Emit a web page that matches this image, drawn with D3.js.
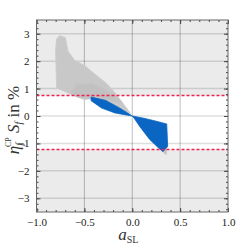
<!DOCTYPE html>
<html>
<head>
<meta charset="utf-8">
<script src="https://cdn.jsdelivr.net/npm/d3@7"></script>
<style>
    body { margin: 0; background: #fff; }
    text { font-family: "Liberation Serif", "DejaVu Serif", serif; }
</style>
</head>
<body>
<div id="scatter"></div>
<script>
const xTicks = [-1, -0.5, 0, 0.5, 1];
const yTicks = [-3, -2, -1, 0, 1, 2, 3];
const xGrid = [-0.5, 0, 0.5];
const bandLimits = [0.75, -1.22];

// outlines of the two point clouds
const grayCloud = [
    [-0.76, 2.93], [-0.70, 2.86], [-0.67, 2.35], [-0.60, 2.02], [-0.49, 1.82],
    [-0.39, 1.52], [-0.28, 1.22], [-0.20, 0.93], [-0.14, 0.66], [-0.08, 0.38],
    [-0.02, 0.10], [-0.06, 0.17], [-0.15, 0.36], [-0.28, 0.58], [-0.42, 0.64],
    [-0.50, 0.60], [-0.60, 0.73], [-0.72, 0.92], [-0.79, 1.02], [-0.80, 2.40],
    [-0.79, 2.80]
];
// denser part of the gray cloud
const grayCore = [
    [-0.58, 1.15], [-0.42, 1.18], [-0.30, 1.00], [-0.20, 0.78], [-0.12, 0.50],
    [-0.28, 0.58], [-0.42, 0.64], [-0.55, 0.68], [-0.64, 0.84]
];
const grayTail = [
    [0.31, -1.26], [0.36, -1.18], [0.36, -1.42], [0.33, -1.36]
];
const blueBand = [
    [-0.43, 0.69], [-0.28, 0.57], [-0.15, 0.33], [-0.06, 0.14], [0, 0],
    [0.12, -0.08], [0.25, -0.19], [0.36, -0.29], [0.37, -1.12], [0.34, -1.22],
    [0.32, -1.30], [0.27, -1.15], [0.18, -0.85], [0.08, -0.39], [0.02, -0.08],
    [0, 0], [-0.05, 0.03], [-0.18, 0.11], [-0.32, 0.29], [-0.43, 0.56]
];

const drawScatter = () => {

    const width = 249;
    const height = 248;
    const margin = { top: 20, right: 21, bottom: 36, left: 36.5 };
    const innerWidth = width - margin.left - margin.right;
    const innerHeight = height - margin.top - margin.bottom;

    const svg = d3.select("#scatter")
        .append("svg")
        .attr("width", width)
        .attr("height", height);

    const innerChart = svg
        .append("g")
        .attr("transform", `translate(${margin.left}, ${margin.top})`);

    const xScale = d3.scaleLinear()
        .domain([-1, 1])
        .range([0, innerWidth]);

    const yScale = d3.scaleLinear()
        .domain([-3.5, 3.5])
        .range([innerHeight, 0]);

    // backgrounds: gray outside the allowed band, white inside
    innerChart
        .append("rect")
        .attr("width", innerWidth)
        .attr("height", innerHeight)
        .attr("fill", "#ebebeb");

    innerChart
        .append("rect")
        .attr("y", yScale(d3.max(bandLimits)))
        .attr("width", innerWidth)
        .attr("height", yScale(d3.min(bandLimits)) - yScale(d3.max(bandLimits)))
        .attr("fill", "#fff");

    // grid
    innerChart
        .selectAll(".grid-y")
        .data(yTicks)
        .join("line")
            .attr("class", "grid-y")
            .attr("x1", 0)
            .attr("x2", innerWidth)
            .attr("y1", d => yScale(d))
            .attr("y2", d => yScale(d))
            .attr("stroke", "#000")
            .attr("stroke-opacity", 0.13)
            .attr("stroke-width", 1.5);

    innerChart
        .selectAll(".grid-x")
        .data(xGrid)
        .join("line")
            .attr("class", "grid-x")
            .attr("x1", d => xScale(d))
            .attr("x2", d => xScale(d))
            .attr("y1", 0)
            .attr("y2", innerHeight)
            .attr("stroke", "#000")
            .attr("stroke-opacity", 0.25)
            .attr("stroke-width", 1);

    const areaLine = d3.line()
        .x(d => xScale(d[0]))
        .y(d => yScale(d[1]))
        .curve(d3.curveLinearClosed);

    innerChart
        .append("path")
        .attr("d", areaLine(grayCloud))
        .attr("fill", "#c8c8c8")
        .attr("stroke", "#cdcdcd")
        .attr("stroke-width", 1);

    innerChart
        .append("path")
        .attr("d", areaLine(grayCore))
        .attr("fill", "#c1c1c1")
        .attr("stroke", "#c4c4c4")
        .attr("stroke-width", 1.5);

    innerChart
        .append("path")
        .attr("d", areaLine(grayTail))
        .attr("fill", "#c4c4c4");

    innerChart
        .append("path")
        .attr("d", areaLine(blueBand))
        .attr("fill", "#0a66c2")
        .attr("stroke", "#0a66c2")
        .attr("stroke-width", 0.8);

    // experimental limits
    innerChart
        .selectAll(".limit")
        .data(bandLimits)
        .join("line")
            .attr("class", "limit")
            .attr("x1", 0)
            .attr("x2", innerWidth)
            .attr("y1", d => yScale(d))
            .attr("y2", d => yScale(d))
            .attr("stroke", "#ee2050")
            .attr("stroke-width", 1.4)
            .attr("stroke-dasharray", "3,2");

    // frame with ticks on all sides
    const tickFmtX = d => d3.format(".1f")(d).replace("-", "\u2212");
    const tickFmtY = d => d3.format("d")(d).replace("-", "\u2212");

    const addAxis = (axis, transform, labels) => {
        const g = innerChart
            .append("g")
            .attr("transform", transform)
            .call(axis);
        g.select(".domain").remove();
        g.selectAll(".tick line").attr("stroke", "#444");
        if (!labels) g.selectAll("text").remove();
        return g;
    };

    const xMinor = d3.range(-10, 11).map(d => d / 10);
    const yMinor = d3.range(-17, 18).map(d => d / 5);

    addAxis(d3.axisBottom(xScale).tickValues(xMinor).tickSize(-2).tickFormat(""), `translate(0, ${innerHeight})`, false);
    addAxis(d3.axisTop(xScale).tickValues(xMinor).tickSize(-2).tickFormat(""), "translate(0, 0)", false);
    addAxis(d3.axisLeft(yScale).tickValues(yMinor).tickSize(-2).tickFormat(""), "translate(0, 0)", false);
    addAxis(d3.axisRight(yScale).tickValues(yMinor).tickSize(-2).tickFormat(""), `translate(${innerWidth}, 0)`, false);

    const bottom = addAxis(d3.axisBottom(xScale).tickValues(xTicks).tickSize(-4).tickPadding(6).tickFormat(tickFmtX), `translate(0, ${innerHeight})`, true);
    addAxis(d3.axisTop(xScale).tickValues(xTicks).tickSize(-4), "translate(0, 0)", false);
    const left = addAxis(d3.axisLeft(yScale).tickValues(yTicks).tickSize(-4).tickPadding(7).tickFormat(tickFmtY), "translate(0, 0)", true);
    addAxis(d3.axisRight(yScale).tickValues(yTicks).tickSize(-4), `translate(${innerWidth}, 0)`, false);

    bottom.selectAll("text")
        .style("font-family", "'Liberation Serif', serif")
        .style("font-size", "11px")
        .attr("fill", "#222");
    left.selectAll("text")
        .style("font-family", "'Liberation Serif', serif")
        .style("font-size", "11px")
        .attr("fill", "#222");

    innerChart
        .append("rect")
        .attr("width", innerWidth)
        .attr("height", innerHeight)
        .attr("fill", "none")
        .attr("stroke", "#666")
        .attr("stroke-width", 1);

    // axis titles
    const xTitle = svg
        .append("text")
        .attr("x", margin.left + innerWidth / 2 - 4)
        .attr("y", 240)
        .attr("text-anchor", "middle")
        .attr("fill", "#333")
        .style("font-size", "17px");
    xTitle.append("tspan").text("a").style("font-style", "italic");
    xTitle.append("tspan").text("SL").attr("dy", 3).style("font-size", "10px");

    const yTitle = svg
        .append("text")
        .attr("transform", `translate(19, ${margin.top + innerHeight / 2 + 4}) rotate(-90)`)
        .attr("text-anchor", "middle")
        .attr("fill", "#333")
        .style("font-size", "17px");
    yTitle.append("tspan").text("\u03b7").style("font-style", "italic");
    yTitle.append("tspan").text("f").attr("dy", 4).style("font-style", "italic").style("font-size", "10px");
    yTitle.append("tspan").text("CP").attr("dx", -4).attr("dy", -12).style("font-size", "8px");
    yTitle.append("tspan").text(" S").attr("dy", 8).style("font-style", "italic");
    yTitle.append("tspan").text("f").attr("dy", 3).style("font-style", "italic").style("font-size", "10px");
    yTitle.append("tspan").text(" in %").attr("dy", -3);
};

drawScatter();
</script>
</body>
</html>
